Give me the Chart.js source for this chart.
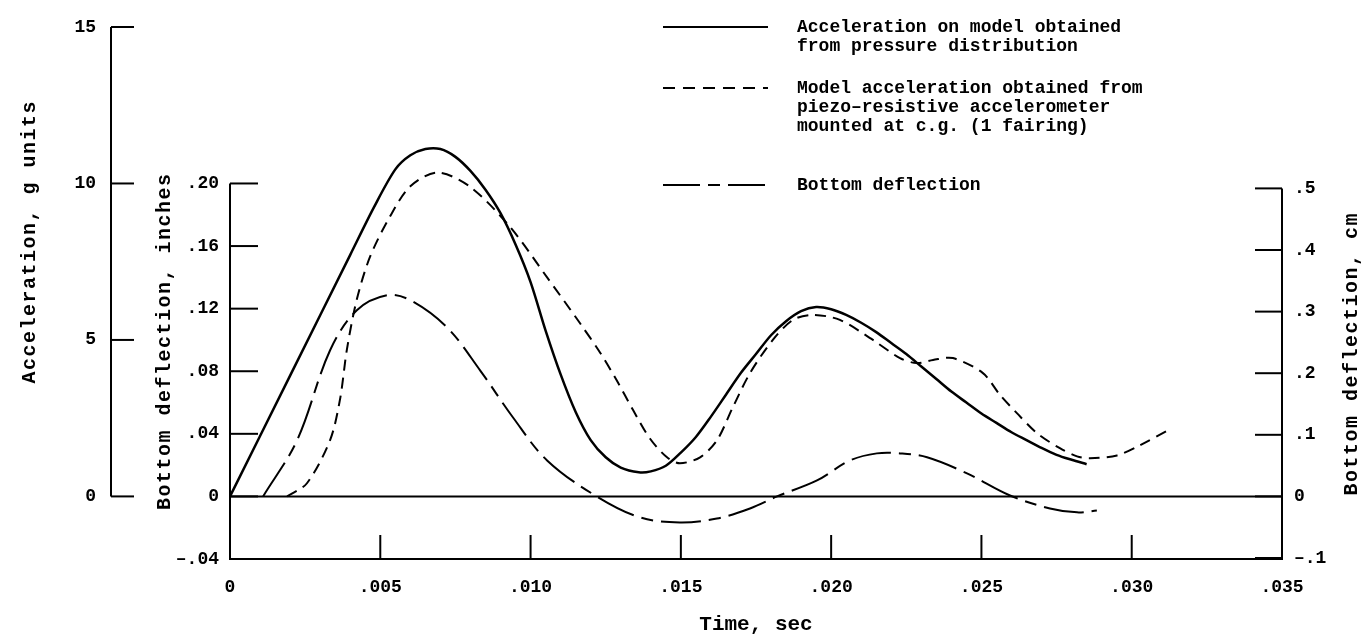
<!DOCTYPE html>
<html>
<head>
<meta charset="utf-8">
<script src="https://cdn.jsdelivr.net/npm/chart.js@4.4.1/dist/chart.umd.min.js"></script>
<style>
  html, body { margin: 0; padding: 0; background: #ffffff; }
  #wrap { position: relative; width: 1366px; height: 643px; }
</style>
</head>
<body>
<div id="wrap"><canvas id="c" width="1366" height="643"></canvas></div>
<script>
// ---------------- data ----------------
const timeTickValues = [0, 0.005, 0.010, 0.015, 0.020, 0.025, 0.030, 0.035];
const timeTickLabels = ['0', '.005', '.010', '.015', '.020', '.025', '.030', '.035'];

const accTickValues = [0, 5, 10, 15];
const accTickLabels = ['0', '5', '10', '15'];

const inchTickValues = [-0.04, 0, 0.04, 0.08, 0.12, 0.16, 0.20];
const inchTickLabels = ['\u2013.04', '0', '.04', '.08', '.12', '.16', '.20'];

const cmTickValues = [-0.1, 0, 0.1, 0.2, 0.3, 0.4, 0.5];
const cmTickLabels = ['\u2013.1', '0', '.1', '.2', '.3', '.4', '.5'];

// Acceleration on model obtained from pressure distribution (g units)
const pressureTime = [0, 0.002, 0.004, 0.0048, 0.0055, 0.006, 0.0065, 0.007, 0.0075, 0.008, 0.0085, 0.009, 0.0095, 0.010, 0.0105, 0.011, 0.0115, 0.012, 0.0125, 0.013, 0.0136, 0.014, 0.0145, 0.015, 0.0155, 0.016, 0.0165, 0.017, 0.0175, 0.018, 0.0185, 0.019, 0.0195, 0.020, 0.0205, 0.021, 0.0215, 0.022, 0.0225, 0.023, 0.0235, 0.024, 0.0245, 0.025, 0.0255, 0.026, 0.0265, 0.027, 0.0275, 0.028, 0.0285];
const pressureAcc  = [0, 3.86, 7.72, 9.26, 10.45, 10.9, 11.1, 11.1, 10.85, 10.4, 9.8, 9.05, 8.05, 6.85, 5.3, 3.9, 2.7, 1.8, 1.25, 0.92, 0.77, 0.8, 0.98, 1.4, 1.9, 2.55, 3.25, 3.95, 4.55, 5.15, 5.6, 5.92, 6.05, 5.98, 5.8, 5.55, 5.25, 4.9, 4.55, 4.15, 3.75, 3.35, 3.0, 2.65, 2.35, 2.05, 1.8, 1.55, 1.33, 1.17, 1.03];

// Model acceleration from piezo-resistive accelerometer (g units)
const piezoTime = [0.0019, 0.00256, 0.00333, 0.00366, 0.00389, 0.00422, 0.00466, 0.00532, 0.00599, 0.00689, 0.00798, 0.00931, 0.01055, 0.01164, 0.01231, 0.01287, 0.01341, 0.01397, 0.01454, 0.01497, 0.01564, 0.0162, 0.01673, 0.0173, 0.01806, 0.01873, 0.0194, 0.02029, 0.02139, 0.02229, 0.02285, 0.02339, 0.02405, 0.02505, 0.02562, 0.02618, 0.02685, 0.02761, 0.02818, 0.02861, 0.02951, 0.03027, 0.03134];
const piezoAcc  = [0, 0.42, 1.8, 3.1, 4.7, 6.3, 7.66, 8.94, 9.9, 10.35, 9.9, 8.62, 7.0, 5.54, 4.6, 3.7, 2.76, 1.85, 1.25, 1.06, 1.25, 1.79, 2.85, 3.94, 5.0, 5.64, 5.8, 5.64, 5.0, 4.42, 4.26, 4.36, 4.42, 3.94, 3.24, 2.66, 2.02, 1.54, 1.28, 1.22, 1.31, 1.63, 2.18];

// Bottom deflection (inches)
const deflTime = [0.0011, 0.00223, 0.00333, 0.00422, 0.00522, 0.006, 0.00722, 0.00832, 0.00941, 0.01055, 0.0122, 0.01364, 0.01497, 0.0162, 0.0173, 0.0182, 0.01953, 0.02063, 0.02152, 0.02229, 0.02319, 0.02452, 0.02595, 0.02728, 0.02818, 0.02884];
const deflInch = [0, 0.0358, 0.0934, 0.119, 0.1286, 0.1254, 0.108, 0.0806, 0.0506, 0.023, 0, -0.0134, -0.0166, -0.0141, -0.0077, 0, 0.0102, 0.023, 0.0275, 0.0275, 0.025, 0.0147, 0.0006, -0.0077, -0.0102, -0.009];

// ---------------- chart ----------------
const FONT = "'Liberation Mono', 'DejaVu Sans Mono', monospace";
const toPts = (xs, ys) => xs.map((x, i) => ({ x: x, y: ys[i] }));

const legendItems = [
  { dash: [], lines: ['Acceleration on model obtained', 'from pressure distribution'], y: 27 },
  { dash: [12, 8], lines: ['Model acceleration obtained from', 'piezo\u2013resistive accelerometer', 'mounted at c.g. (1 fairing)'], y: 88 },
  { dash: [37, 8, 12, 8], lines: ['Bottom deflection'], y: 185 }
];

const decor = {
  id: 'decor',
  afterDraw(chart) {
    const ctx = chart.ctx;
    const xs = chart.scales.x, ya = chart.scales.yAcc, yi = chart.scales.yIn, yc = chart.scales.yCm;
    const area = chart.chartArea;
    ctx.save();
    ctx.strokeStyle = '#000';
    ctx.fillStyle = '#000';
    ctx.lineWidth = 2;
    ctx.setLineDash([]);
    // zero line
    const y0 = yi.getPixelForValue(0);
    ctx.beginPath(); ctx.moveTo(area.left, y0); ctx.lineTo(area.right, y0); ctx.stroke();
    // acceleration axis (outer left)
    const ax = ya.right;
    ctx.beginPath(); ctx.moveTo(ax, ya.getPixelForValue(15)); ctx.lineTo(ax, ya.getPixelForValue(0)); ctx.stroke();
    accTickValues.forEach(v => { const p = ya.getPixelForValue(v); ctx.beginPath(); ctx.moveTo(ax, p); ctx.lineTo(ax + 23, p); ctx.stroke(); });
    // inches axis (inner left)
    const ix = yi.right;
    ctx.beginPath(); ctx.moveTo(ix, yi.getPixelForValue(0.20)); ctx.lineTo(ix, area.bottom); ctx.stroke();
    inchTickValues.forEach(v => { const p = yi.getPixelForValue(v); ctx.beginPath(); ctx.moveTo(ix, p); ctx.lineTo(ix + 28, p); ctx.stroke(); });
    // cm axis (right)
    const cx = yc.left;
    ctx.beginPath(); ctx.moveTo(cx, yc.getPixelForValue(0.5)); ctx.lineTo(cx, area.bottom); ctx.stroke();
    cmTickValues.forEach(v => { const p = yc.getPixelForValue(v); ctx.beginPath(); ctx.moveTo(cx, p); ctx.lineTo(cx - 27, p); ctx.stroke(); });
    // time ticks (inward)
    timeTickValues.forEach(v => { if (v === 0 || v === 0.035) return; const p = xs.getPixelForValue(v); ctx.beginPath(); ctx.moveTo(p, area.bottom); ctx.lineTo(p, area.bottom - 24); ctx.stroke(); });

    // axis titles (rotated)
    ctx.font = 'bold 20px ' + FONT;
    if ('letterSpacing' in ctx) ctx.letterSpacing = '1.5px';
    ctx.textAlign = 'center';
    ctx.textBaseline = 'middle';
    const vtitle = (text, x, y) => { ctx.save(); ctx.translate(x, y); ctx.rotate(-Math.PI / 2); ctx.fillText(text, 0, 0); ctx.restore(); };
    vtitle('Acceleration, g units', 30, (ya.getPixelForValue(15) + ya.getPixelForValue(0)) / 2 - 20);
    vtitle('Bottom deflection, inches', 165, (yi.getPixelForValue(0.20) + area.bottom) / 2 - 30);
    vtitle('Bottom deflection, cm', 1352, (yc.getPixelForValue(0.5) + area.bottom) / 2 - 20);
    if ('letterSpacing' in ctx) ctx.letterSpacing = '0px';

    // legend
    ctx.font = 'bold 18px ' + FONT;
    ctx.textAlign = 'left';
    legendItems.forEach(item => {
      ctx.setLineDash(item.dash);
      ctx.lineWidth = 2;
      ctx.beginPath(); ctx.moveTo(663, item.y); ctx.lineTo(768, item.y); ctx.stroke();
      ctx.setLineDash([]);
      item.lines.forEach((t, i) => ctx.fillText(t, 797, item.y + i * 19));
    });
    ctx.restore();
  }
};

new Chart(document.getElementById('c'), {
  type: 'line',
  data: {
    datasets: [
      {
        label: 'Acceleration on model obtained from pressure distribution',
        data: toPts(pressureTime, pressureAcc),
        yAxisID: 'yAcc',
        borderColor: '#000', borderWidth: 2.5, pointRadius: 0,
        tension: 0.3, fill: false
      },
      {
        label: 'Model acceleration obtained from piezo-resistive accelerometer mounted at c.g. (1 fairing)',
        data: toPts(piezoTime, piezoAcc),
        yAxisID: 'yAcc',
        borderColor: '#000', borderWidth: 2, borderDash: [11, 7], pointRadius: 0,
        tension: 0.3, fill: false
      },
      {
        label: 'Bottom deflection',
        data: toPts(deflTime, deflInch),
        yAxisID: 'yIn',
        borderColor: '#000', borderWidth: 2, borderDash: [40, 8, 12, 8], pointRadius: 0,
        tension: 0.35, fill: false
      }
    ]
  },
  options: {
    responsive: false,
    animation: false,
    layout: { padding: { top: 27, left: 0, right: 0, bottom: 0 } },
    plugins: { legend: { display: false }, tooltip: { enabled: false } },
    scales: {
      x: {
        type: 'linear', position: 'bottom', min: 0, max: 0.035,
        afterBuildTicks: s => { s.ticks = timeTickValues.map(v => ({ value: v })); },
        afterFit: s => { s.height = 84; },
        ticks: {
          autoSkip: false, maxRotation: 0, padding: 18, color: '#000',
          font: { family: FONT, size: 18, weight: 'bold' },
          callback: (v, i) => timeTickLabels[i]
        },
        grid: { display: false, drawTicks: false },
        border: { display: true, color: '#000', width: 2 },
        title: { display: true, text: 'Time, sec', color: '#000', font: { family: FONT, size: 21, weight: 'bold' }, padding: { top: 0, bottom: 6 } }
      },
      yAcc: {
        type: 'linear', position: 'left', weight: 1, min: -2, max: 15,
        afterBuildTicks: s => { s.ticks = accTickValues.map(v => ({ value: v })); },
        afterFit: s => { s.width = 111; },
        ticks: { padding: 15, color: '#000', font: { family: FONT, size: 18, weight: 'bold' }, callback: (v, i) => accTickLabels[i] },
        grid: { display: false, drawTicks: false },
        border: { display: false }
      },
      yIn: {
        type: 'linear', position: 'left', weight: 0, min: -0.04, max: 0.30,
        afterBuildTicks: s => { s.ticks = inchTickValues.map(v => ({ value: v })); },
        afterFit: s => { s.width = 119; },
        ticks: { padding: 11, color: '#000', font: { family: FONT, size: 18, weight: 'bold' }, callback: (v, i) => inchTickLabels[i] },
        grid: { display: false, drawTicks: false },
        border: { display: false }
      },
      yCm: {
        type: 'linear', position: 'right', min: -0.04 * 2.54, max: 0.30 * 2.54,
        afterBuildTicks: s => { s.ticks = cmTickValues.map(v => ({ value: v })); },
        afterFit: s => { s.width = 84; },
        ticks: { padding: 12, color: '#000', font: { family: FONT, size: 18, weight: 'bold' }, callback: (v, i) => cmTickLabels[i] },
        grid: { display: false, drawTicks: false },
        border: { display: false }
      }
    }
  },
  plugins: [decor]
});
</script>
</body>
</html>
